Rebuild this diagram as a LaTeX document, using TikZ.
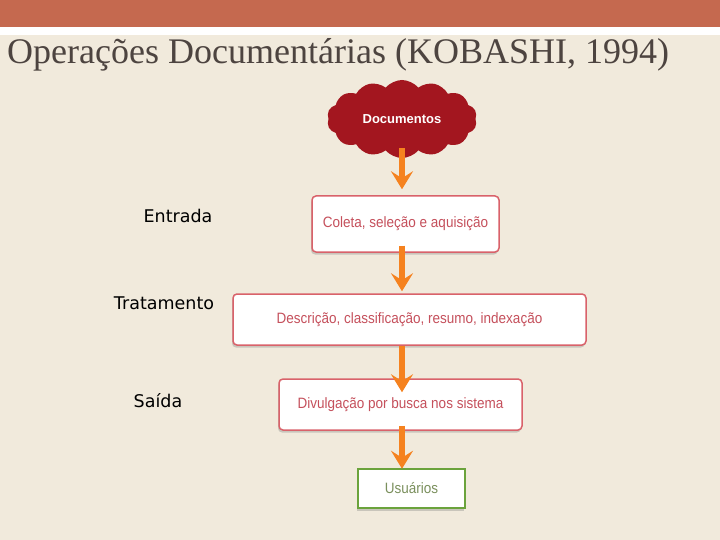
\documentclass[tikz,border=0pt]{standalone}
\usepackage{fontspec}
\setmainfont{Liberation Serif}
\newfontfamily\boxfont[FakeStretch=0.9]{Liberation Sans}
\newfontfamily\cloudfont{Liberation Sans}
\newfontfamily\labelfont{DejaVu Sans}
\usepackage{tikz}
\usetikzlibrary{arrows.meta}
\usetikzlibrary{shapes.symbols}
\usetikzlibrary{shadows}
\definecolor{bandred}{HTML}{C5694F}
\definecolor{beige}{HTML}{F1EADC}
\definecolor{titlegray}{HTML}{4D4440}
\definecolor{cloudred}{HTML}{A3161F}
\definecolor{flowor}{HTML}{F5821F}
\definecolor{boxred}{HTML}{D9626A}
\definecolor{boxtext}{HTML}{C5505C}
\definecolor{usugreen}{HTML}{6BA33C}
\definecolor{usutext}{HTML}{7A8F5C}

\begin{document}
\begin{tikzpicture}[x=1bp, y=1bp,
    stage/.style={draw=boxred, line width=1.5bp, fill=white, rounded corners=4bp,
        drop shadow={opacity=0.35, shadow xshift=-1bp, shadow yshift=-2.5bp},
        inner sep=0pt, text=boxtext, font=\boxfont\fontsize{15bp}{18bp}\selectfont},
    phase/.style={font=\labelfont\fontsize{17.5bp}{20bp}\selectfont, text=black},
    flow/.style={draw=flowor, line width=6bp, -{Stealth[length=18bp, width=22bp, inset=7bp]}}]
\useasboundingbox (0,0) rectangle (720,-540);
\fill[beige] (0,0) rectangle (720,-540);
\fill[bandred] (0,0) rectangle (720,-27);
\fill[white] (0,-27) rectangle (720,-35);
\node[anchor=base west, inner sep=0pt, text=titlegray, font=\fontsize{36bp}{40bp}\selectfont]
    (title) at (7,-64) {Operações Documentárias (KOBASHI, 1994)};

\node[cloud, cloud puffs=14, cloud puff arc=100, cloud ignores aspect, fill=cloudred,
    minimum width=150bp, minimum height=78bp, inner sep=0pt, text=white,
    font=\cloudfont\bfseries\fontsize{13bp}{15bp}\selectfont] (docs) at (402,-119) {Documentos};

\node[stage, minimum width=187bp, minimum height=56bp] (coleta) at (405.5,-224) {Coleta, seleção e aquisição};
\node[stage, minimum width=353bp, minimum height=51bp] (tratam) at (409.5,-319.5) {Descrição, classificação, resumo, indexação};
\node[stage, minimum width=243bp, minimum height=51bp] (divulg) at (400.5,-404.5) {Divulgação por busca nos sistema};
\node[stage, draw=usugreen, line width=2.5bp, rounded corners=0pt, text=usutext,
    minimum width=107bp, minimum height=39bp] (usu) at (411.5,-488.5) {Usuários};

\node[phase] (entrada) at (178,-216) {Entrada};
\node[phase] (tratamento) at (164,-303) {Tratamento};
\node[phase] (saida) at (158,-401) {Saída};

% setas
\draw[flow] ([yshift=10bp]docs.south) -- ([yshift=6bp]coleta.north -| docs.south);
\draw[flow] ([yshift=7bp]coleta.south -| docs.south) -- ([yshift=2bp]tratam.north -| docs.south);
\draw[flow] (tratam.south -| docs.south) -- ([yshift=-14bp]divulg.north -| docs.south);
\draw[flow] ([yshift=5bp]divulg.south -| docs.south) -- ([yshift=-1bp]usu.north -| docs.south);
\end{tikzpicture}
\end{document}
